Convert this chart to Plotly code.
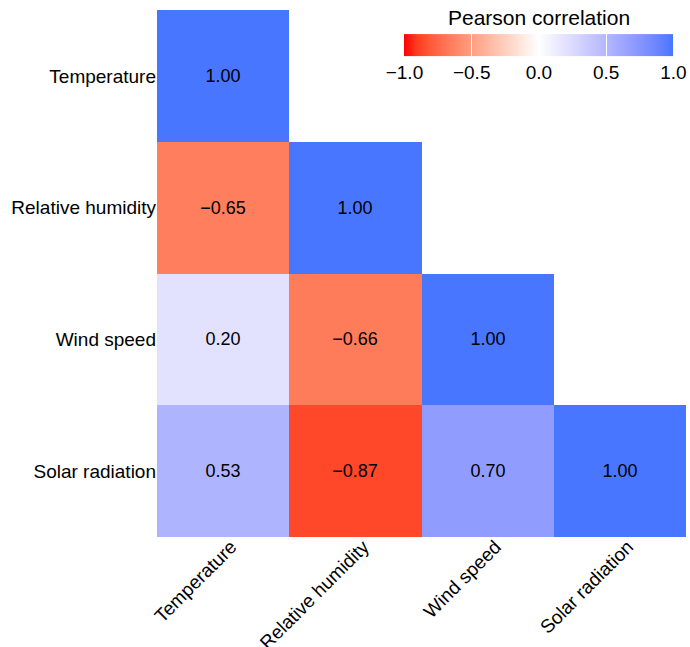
import numpy as np
import plotly.graph_objects as go

variables = ["Temperature", "Relative humidity", "Wind speed", "Solar radiation"]
row_temperature = [1.00, None, None, None]
row_humidity = [-0.65, 1.00, None, None]
row_wind = [0.20, -0.66, 1.00, None]
row_solar = [0.53, -0.87, 0.70, 1.00]
colorbar_ticks = [-1.0, -0.5, 0.0, 0.5, 1.0]

z = [row_temperature, row_humidity, row_wind, row_solar]

def fmt(v, d=2):
    if v is None:
        return ""
    return f"{v:.{d}f}".replace("-", "\u2212")

text = [[fmt(v) for v in row] for row in z]

# Lab-space diverging gradient (red - white - royalblue1)
def srgb_to_lin(c):
    c = c / 255.0
    return np.where(c <= 0.04045, c / 12.92, ((c + 0.055) / 1.055) ** 2.4)

def lin_to_srgb(c):
    c = np.clip(c, 0, 1)
    v = np.where(c <= 0.0031308, 12.92 * c, 1.055 * c ** (1 / 2.4) - 0.055)
    return np.clip(np.round(v * 255), 0, 255)

M = np.array([[0.4124, 0.3576, 0.1805], [0.2126, 0.7152, 0.0722], [0.0193, 0.1192, 0.9505]])
Minv = np.linalg.inv(M)
WHITE = np.array([0.95047, 1.0, 1.08883])

def f(t):
    d = 6 / 29
    return np.where(t > d ** 3, np.cbrt(t), t / (3 * d * d) + 4 / 29)

def finv(t):
    d = 6 / 29
    return np.where(t > d, t ** 3, 3 * d * d * (t - 4 / 29))

def rgb_to_lab(rgb):
    xyz = M @ srgb_to_lin(np.array(rgb, float)) / WHITE
    fx, fy, fz = f(xyz)
    return np.array([116 * fy - 16, 500 * (fx - fy), 200 * (fy - fz)])

def lab_to_rgb(lab):
    L, a, b = lab
    fy = (L + 16) / 116
    fx = fy + a / 500
    fz = fy - b / 200
    xyz = np.array([finv(fx), finv(fy), finv(fz)]) * WHITE
    return lin_to_srgb(Minv @ xyz)

low = rgb_to_lab([255, 0, 0])
mid = rgb_to_lab([255, 255, 255])
high = rgb_to_lab([72, 118, 255])
colorscale = []
n = 20
for i in range(n + 1):
    t = i / n
    if t <= 0.5:
        lab = low + (mid - low) * (t / 0.5)
    else:
        lab = mid + (high - mid) * ((t - 0.5) / 0.5)
    r, g, b = lab_to_rgb(lab)
    colorscale.append([t, f"rgb({int(r)},{int(g)},{int(b)})"])

FONT = "Liberation Sans, Arial, sans-serif"

fig = go.Figure(
    go.Heatmap(
        z=z,
        x=variables,
        y=variables,
        text=text,
        texttemplate="%{text}",
        textfont=dict(size=18, color="black", family=FONT),
        colorscale=colorscale,
        zmin=-1,
        zmax=1,
        hoverongaps=False,
        colorbar=dict(
            orientation="h",
            x=0.722,
            xanchor="center",
            y=0.886,
            yanchor="middle",
            len=0.546,
            lenmode="fraction",
            thickness=22,
            outlinewidth=0,
            tickvals=colorbar_ticks,
            ticktext=[fmt(v, 1) for v in colorbar_ticks],
            ticks="inside",
            ticklen=22,
            tickcolor="white",
            tickwidth=1,
            ticklabeloverflow="allow",
            tickfont=dict(size=19, color="black", family=FONT),
        ),
    )
)

fig.add_annotation(
    text="Pearson correlation",
    xref="paper", yref="paper",
    x=0.722, y=0.985,
    xanchor="center", yanchor="middle",
    showarrow=False,
    font=dict(size=21, color="black", family=FONT),
)

fig.update_layout(
    width=690,
    height=647,
    margin=dict(l=157, r=4, t=10, b=110, autoexpand=False),
    plot_bgcolor="white",
    paper_bgcolor="white",
    font=dict(family=FONT, color="black"),
)
fig.update_xaxes(
    tickangle=-45,
    showgrid=False,
    zeroline=False,
    showline=False,
    ticks="",
    automargin=False,
    ticklabelshift=8,
    ticklabelstandoff=-6,
    tickfont=dict(size=19, color="black"),
)
fig.update_yaxes(
    autorange="reversed",
    showgrid=False,
    zeroline=False,
    showline=False,
    ticks="",
    automargin=False,
    tickfont=dict(size=19, color="black"),
)

fig.write_html(
    "out.html",
    config={"displayModeBar": False},
    post_script="document.body.style.margin='0';document.body.style.overflow='hidden';",
)
